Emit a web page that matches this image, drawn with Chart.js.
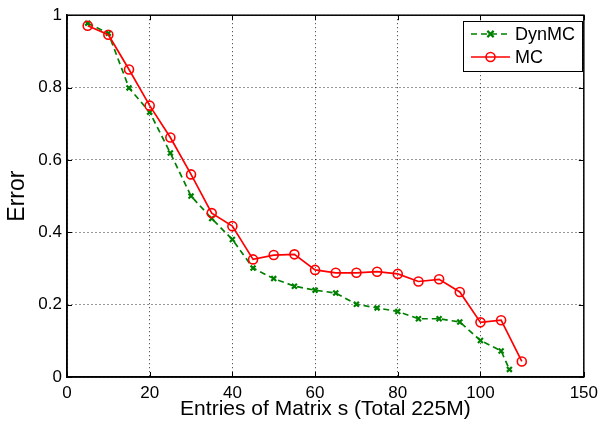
<!DOCTYPE html>
<html>
<head>
<meta charset="utf-8">
<script src="https://cdn.jsdelivr.net/npm/chart.js@4"></script>
<style>
  html, body { margin: 0; padding: 0; background: #fff; }
  canvas { display: block; }
</style>
</head>
<body>
<canvas id="errChart" width="604" height="424"></canvas>
<script>
// ================= DATA =================
const dynX = [5, 10, 15, 20, 25, 30, 35, 40, 45, 50, 55, 60, 65, 70, 75, 80, 85, 90, 95, 100, 105, 107];
const dynErr = [0.978, 0.95, 0.799, 0.732, 0.619, 0.500, 0.438, 0.380, 0.301, 0.272, 0.251, 0.240, 0.232, 0.201, 0.191, 0.181, 0.161, 0.161, 0.152, 0.101, 0.072, 0.021];

const mcX = [5, 10, 15, 20, 25, 30, 35, 40, 45, 50, 55, 60, 65, 70, 75, 80, 85, 90, 95, 100, 105, 110];
const mcErr = [0.971, 0.946, 0.850, 0.750, 0.662, 0.560, 0.453, 0.417, 0.325, 0.337, 0.339, 0.296, 0.288, 0.288, 0.291, 0.285, 0.264, 0.270, 0.235, 0.151, 0.157, 0.043];

const xTickValues = [0, 20, 40, 60, 80, 100, 125];
const xTickLabels = ["0", "20", "40", "60", "80", "100", "150"];
const yTickValues = [0, 0.2, 0.4, 0.6, 0.8, 1];
const yTickLabels = ["0", "0.2", "0.4", "0.6", "0.8", "1"];

const FONT = "'Liberation Sans', Arial, Helvetica, sans-serif";

// ================= PLUGINS =================
// box round the plot, inner tick marks, legend inside the axes
const matlabFrame = {
    id: "matlabFrame",
    afterDraw(chart) {
        const ctx = chart.ctx;
        const a = chart.chartArea;
        const xs = chart.scales.x;
        const ys = chart.scales.y;

        ctx.save();
        ctx.strokeStyle = "#000";
        ctx.lineWidth = 1;

        // inner ticks
        ctx.beginPath();
        xTickValues.forEach(v => {
            const px = Math.round(xs.getPixelForValue(v)) + 0.5;
            ctx.moveTo(px, a.bottom); ctx.lineTo(px, a.bottom - 5);
            ctx.moveTo(px, a.top); ctx.lineTo(px, a.top + 5);
        });
        yTickValues.forEach(v => {
            const py = Math.round(ys.getPixelForValue(v)) + 0.5;
            ctx.moveTo(a.left, py); ctx.lineTo(a.left + 5, py);
            ctx.moveTo(a.right, py); ctx.lineTo(a.right - 5, py);
        });
        ctx.stroke();

        // frame
        ctx.lineWidth = 1.5;
        ctx.strokeRect(a.left, a.top, a.right - a.left, a.bottom - a.top);

        // legend
        const bx = 463, by = 21, bw = 119, bh = 50;
        ctx.fillStyle = "#fff";
        ctx.fillRect(bx, by, bw, bh);
        ctx.lineWidth = 1;
        ctx.strokeRect(bx + 0.5, by + 0.5, bw, bh);

        const rows = [34, 57];
        chart.data.datasets.forEach((ds, i) => {
            const y = rows[i];
            ctx.save();
            ctx.strokeStyle = ds.borderColor;
            ctx.lineWidth = ds.borderWidth;
            ctx.setLineDash(ds.borderDash || []);
            ctx.beginPath();
            ctx.moveTo(471, y); ctx.lineTo(510, y);
            ctx.stroke();
            ctx.restore();

            ctx.save();
            ctx.strokeStyle = ds.pointBorderColor;
            ctx.lineWidth = ds.pointBorderWidth;
            const r = ds.pointRadius;
            ctx.beginPath();
            if (ds.pointStyle === "crossRot") {
                const d = r * 0.9;
                ctx.moveTo(490.5 - d, y - d); ctx.lineTo(490.5 + d, y + d);
                ctx.moveTo(490.5 - d, y + d); ctx.lineTo(490.5 + d, y - d);
            } else {
                ctx.arc(490.5, y, r, 0, Math.PI * 2);
            }
            ctx.stroke();
            ctx.restore();

            ctx.fillStyle = "#000";
            ctx.font = "18px " + FONT;
            ctx.textBaseline = "middle";
            ctx.textAlign = "left";
            ctx.fillText(ds.label, 515, y + 1);
        });

        ctx.restore();
    }
};

// ================= CHART =================
const errChart = document.getElementById("errChart");

new Chart(errChart, {
    type: "line",
    data: {
        datasets: [
            {
                label: "DynMC",
                data: dynX.map((x, i) => ({ x: x, y: dynErr[i] })),
                borderColor: "#008000",
                borderWidth: 1.7,
                borderDash: [6, 4],
                pointStyle: "crossRot",
                pointRadius: 3.5,
                pointBorderWidth: 2.2,
                pointBorderColor: "#008000",
                pointBackgroundColor: "#008000",
                fill: false,
                tension: 0,
                order: 1
            },
            {
                label: "MC",
                data: mcX.map((x, i) => ({ x: x, y: mcErr[i] })),
                borderColor: "#ff0000",
                borderWidth: 1.7,
                pointStyle: "circle",
                pointRadius: 4.5,
                pointBorderWidth: 1.6,
                pointBorderColor: "#ff0000",
                pointBackgroundColor: "rgba(0,0,0,0)",
                fill: false,
                tension: 0,
                order: 0
            }
        ]
    },
    options: {
        responsive: false,
        animation: false,
        devicePixelRatio: 1,
        layout: {
            padding: { top: 15, right: 17, left: 0, bottom: 0 }
        },
        plugins: {
            legend: { display: false },
            tooltip: { enabled: false }
        },
        scales: {
            x: {
                type: "linear",
                min: 0,
                max: 125,
                afterBuildTicks: scale => {
                    scale.ticks = xTickValues.map(v => ({ value: v }));
                },
                afterFit: scale => { scale.height = 47; },
                ticks: {
                    autoSkip: false,
                    maxRotation: 0,
                    padding: 6,
                    color: "#000",
                    font: { family: FONT, size: 17 },
                    callback: v => xTickLabels[xTickValues.indexOf(v)]
                },
                grid: {
                    color: "rgba(0,0,0,0.8)",
                    lineWidth: 1,
                    drawTicks: false
                },
                border: { display: true, color: "#000", width: 1.5, dash: [1, 3] },
                title: {
                    display: true,
                    text: "Entries of Matrix s (Total 225M)",
                    color: "#000",
                    font: { family: FONT, size: 21 },
                    padding: { top: 0, bottom: 2 }
                }
            },
            y: {
                type: "linear",
                min: 0,
                max: 1,
                afterBuildTicks: scale => {
                    scale.ticks = yTickValues.map(v => ({ value: v }));
                },
                afterFit: scale => { scale.width = 67; },
                ticks: {
                    padding: 5,
                    color: "#000",
                    font: { family: FONT, size: 17 },
                    callback: v => yTickLabels[yTickValues.indexOf(v)]
                },
                grid: {
                    color: "rgba(0,0,0,0.8)",
                    lineWidth: 1,
                    drawTicks: false
                },
                border: { display: true, color: "#000", width: 1.5, dash: [1, 3] },
                title: {
                    display: true,
                    text: "Error",
                    color: "#000",
                    font: { family: FONT, size: 23 },
                    padding: { top: 4, bottom: 0 }
                }
            }
        }
    },
    plugins: [matlabFrame]
});
</script>
</body>
</html>
